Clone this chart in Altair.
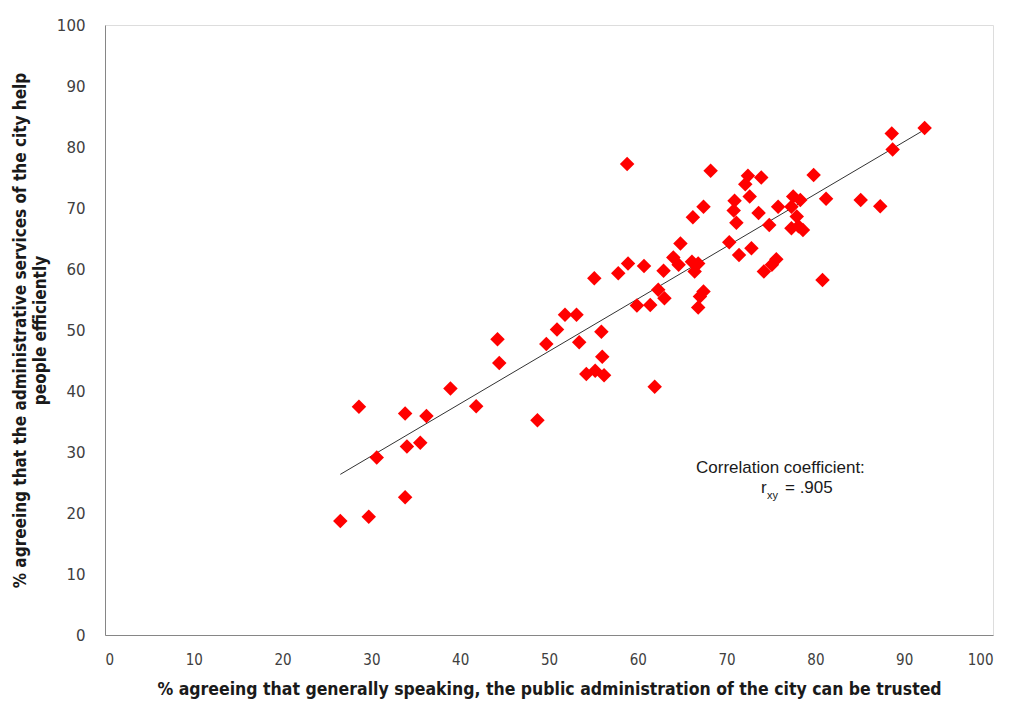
import altair as alt
import pandas as pd

trust = [26.5, 29.7, 28.6, 30.6, 33.8, 33.8, 34.0, 35.5, 36.2, 38.9, 41.8, 44.2, 44.4, 48.7,
         49.7, 50.9, 51.8, 53.1, 53.4, 55.9, 56.0, 54.2, 55.2, 56.2, 55.1, 57.8, 58.9, 60.7,
         58.8, 59.9, 61.4, 61.9, 62.3, 63.0, 62.9, 64.0, 64.6, 64.8, 66.1, 66.8, 66.4, 66.2,
         67.4, 68.2, 67.4, 67.0, 66.8, 70.3, 71.4, 72.8, 75.6, 75.1, 74.2, 80.8, 72.4, 72.1,
         73.9, 79.8, 72.6, 70.9, 70.8, 71.1, 73.6, 75.8, 77.5, 78.3, 77.3, 81.2, 85.1, 87.3,
         74.8, 77.9, 78.1, 77.3, 78.6, 88.6, 88.7, 92.3]
efficient = [18.7, 19.4, 37.4, 29.1, 22.6, 36.3, 30.9, 31.5, 35.9, 40.4, 37.5, 48.5, 44.6, 35.2,
             47.7, 50.1, 52.5, 52.5, 48.0, 49.7, 45.6, 42.8, 43.3, 42.6, 58.5, 59.3, 60.9, 60.5,
             77.2, 54.0, 54.1, 40.7, 56.6, 55.2, 59.7, 61.9, 60.7, 64.2, 61.2, 60.9, 59.6, 68.5,
             70.2, 76.1, 56.3, 55.5, 53.7, 64.4, 62.3, 63.4, 61.6, 60.7, 59.6, 58.2, 75.3, 73.9,
             75.0, 75.4, 71.9, 71.2, 69.6, 67.6, 69.2, 70.2, 71.9, 71.3, 70.2, 71.5, 71.3, 70.3,
             67.2, 68.6, 67.0, 66.7, 66.4, 82.2, 79.6, 83.1]

x_title = "% agreeing that generally speaking, the public administration of the city can be trusted"
y_title = ["% agreeing that the administrative services of the city help", "people efficiently"]

df = pd.DataFrame({"trust": trust, "efficient": efficient})

COND = "DejaVu Sans Condensed, Liberation Sans Narrow, Liberation Sans, sans-serif"

xs = alt.X("trust:Q", scale=alt.Scale(domain=[0, 100], nice=False),
           axis=alt.Axis(title=x_title, values=list(range(0, 101, 10)), grid=False, ticks=False,
                         domainColor="#868686", labelColor="#404040", labelFontSize=15,
                         labelFont=COND, labelPadding=17,
                         titleFont=COND, titleFontSize=17.5, titleFontWeight="bold",
                         titleColor="#1a1a1a", titlePadding=13))
ys = alt.Y("efficient:Q", scale=alt.Scale(domain=[0, 100], nice=False),
           axis=alt.Axis(title=y_title, values=list(range(0, 101, 10)), grid=False, ticks=False,
                         domainColor="#868686", labelColor="#404040", labelFontSize=15,
                         labelFont="DejaVu Sans", labelPadding=20,
                         titleFont=COND, titleFontSize=17, titleFontWeight="bold",
                         titleLineHeight=20, titleColor="#1a1a1a", titlePadding=7))

base = alt.Chart(df)
points = base.mark_point(shape="diamond", filled=True, color="#ff0000", size=210, opacity=1).encode(x=xs, y=ys)
line = base.transform_regression("trust", "efficient").mark_line(color="#333333", strokeWidth=1).encode(
    x="trust:Q", y="efficient:Q")

t1 = alt.Chart(pd.DataFrame({"t": ["Correlation coefficient:"]})).mark_text(
    align="left", baseline="alphabetic", fontSize=17, font="Liberation Sans", color="#1a1a1a"
).encode(x=alt.value(591), y=alt.value(448), text="t:N")
t2 = alt.Chart(pd.DataFrame({"t": ["r"]})).mark_text(
    align="left", baseline="alphabetic", fontSize=17, font="Liberation Sans", color="#1a1a1a"
).encode(x=alt.value(656), y=alt.value(468), text="t:N")
t3 = alt.Chart(pd.DataFrame({"t": ["xy"]})).mark_text(
    align="left", baseline="alphabetic", fontSize=11, font="Liberation Sans", color="#1a1a1a"
).encode(x=alt.value(662), y=alt.value(474), text="t:N")
t4 = alt.Chart(pd.DataFrame({"t": ["=  .905"]})).mark_text(
    align="left", baseline="alphabetic", fontSize=17, font="Liberation Sans", color="#1a1a1a"
).encode(x=alt.value(680), y=alt.value(468), text="t:N")

chart = alt.layer(line, points, t1, t2, t3, t4).properties(
    width=888, height=610,
    autosize=alt.AutoSizeParams(type="none"),
    padding={"left": 97, "top": 17, "right": 10, "bottom": 65},
).configure_view(stroke=None).configure(background="white")

chart.save("out.html", embed_options={"renderer": "svg", "actions": False})
